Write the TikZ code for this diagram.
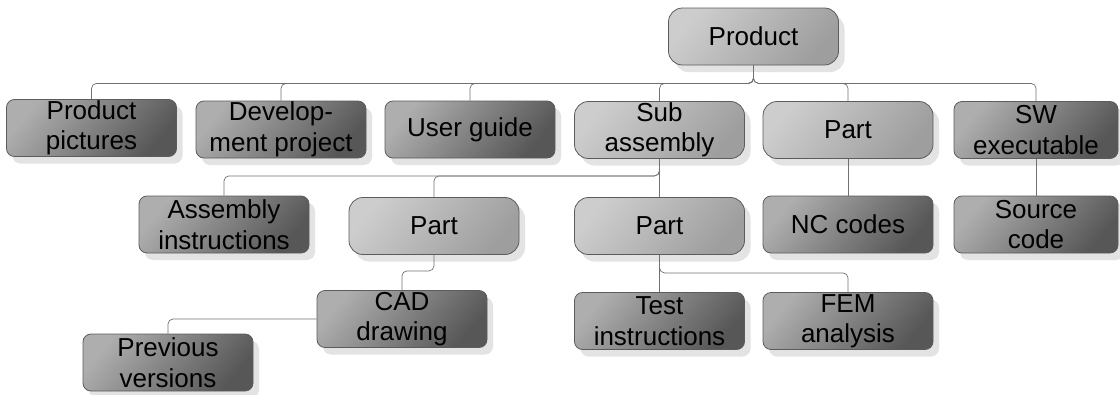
\documentclass[tikz,border=0pt]{standalone}
\usepackage{fontspec}
\setmainfont{Liberation Sans}
\usetikzlibrary{shadows}
\definecolor{dkA}{HTML}{AEAEAE}
\definecolor{dkM}{HTML}{959595}
\definecolor{dkB}{HTML}{575757}
\definecolor{ltA}{HTML}{CDCDCD}
\definecolor{ltM}{HTML}{B8B8B8}
\definecolor{ltB}{HTML}{9E9E9E}
\definecolor{edge}{HTML}{5C5C5C}
\definecolor{wire}{HTML}{707070}
\definecolor{shad}{HTML}{E3E3E3}
\tikzset{
  boxbase/.style={draw=edge, line width=0.8pt, minimum width=170pt, minimum height=57pt,
    inner sep=0pt, align=center, font=\fontsize{26}{30.5}\selectfont,
    drop shadow={shadow xshift=6pt, shadow yshift=-7pt, fill=shad, opacity=1}},
  docbox/.style={boxbase, rounded corners=8pt, top color=dkA, middle color=dkM, bottom color=dkB, shading angle=50},
  itembox/.style={boxbase, rounded corners=14pt, top color=ltA, middle color=ltM, bottom color=ltB, shading angle=50},
  conn/.style={draw=wire, line width=0.7pt, rounded corners=5pt}
}
\begin{document}
\begin{tikzpicture}[x=1pt, y=-1pt]
\useasboundingbox (0,0) rectangle (1120,394);
% top
\node[itembox] (prod) at (753.5,36.5) {Product};
% row 1
\node[docbox]  (pp)    at (91.5,128)  {Product\\pictures};
\node[docbox]  (dev)   at (281,129.5) {Develop-\\ment project};
\node[docbox]  (ug)    at (470,129.5) {User guide};
\node[itembox] (sub)   at (659.5,130) {Sub\\assembly};
\node[itembox] (part1) at (848,130)   {Part};
\node[docbox, minimum width=164pt] (sw) at (1036,130) {SW\\executable};
% row 2
\node[docbox]  (asm)   at (224,224.5)   {Assembly\\instructions};
\node[itembox] (partL) at (434,226)     {Part};
\node[itembox] (partM) at (659.5,226)   {Part};
\node[docbox]  (nc)    at (848,224.5)   {NC codes};
\node[docbox, minimum width=164pt] (src) at (1036,224.5) {Source\\code};
% row 3
\node[docbox]  (cad)   at (402,319)   {CAD\\drawing};
\node[docbox]  (test)  at (659.5,321) {Test\\instructions};
\node[docbox]  (fem)   at (848,321)   {FEM\\analysis};
% row 4
\node[docbox]  (prev)  at (168,362.5) {Previous\\versions};
% connectors
\foreach \c in {pp,dev,ug,sub,part1,sw}
  \draw[conn] (prod.south) -- ++(0,18) -| (\c.north);
\draw[conn] (sub.south) -- (partM.north);
\draw[conn] (sub.south) -- ++(0,17) -| (asm.north);
\draw[conn] (sub.south) -- ++(0,17) -| (partL.north);
\draw[conn] (partL.south) -- ++(0,16) -| (cad.north);
\draw[conn] (cad.west) -| (prev.north);
\draw[conn] (partM.south) -- (test.north);
\draw[conn] (partM.south) -- ++(0,18) -| (fem.north);
\draw[conn] (part1.south) -- (nc.north);
\draw[conn] (sw.south) -- (src.north);
\end{tikzpicture}
\end{document}
